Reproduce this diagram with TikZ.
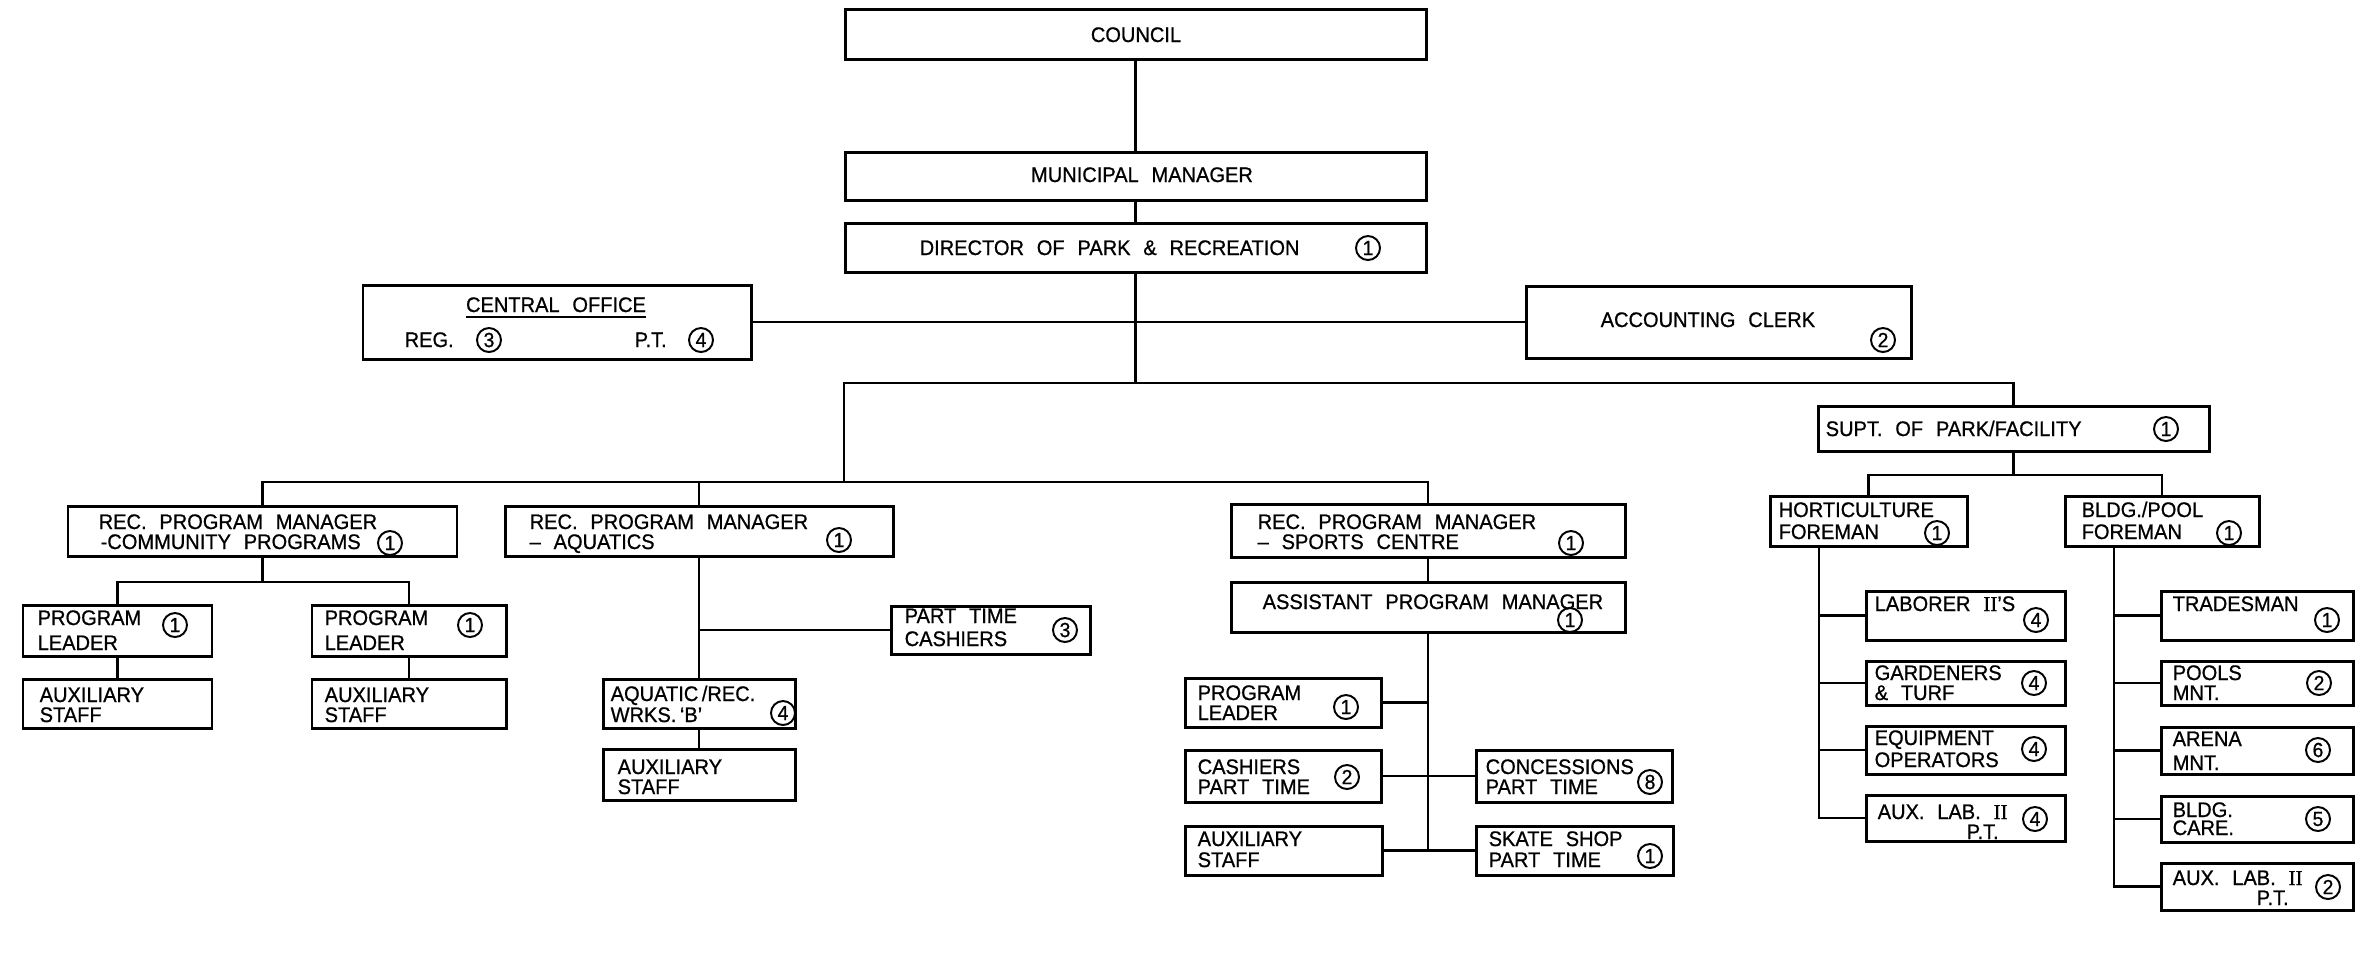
\documentclass[tikz,border=0pt]{standalone}
\usepackage{fontspec}
\setmainfont{Liberation Sans}[FakeStretch=0.95,WordSpace=2.3,FakeBold=0.8]
\newfontfamily\iifont{Liberation Serif}[FakeBold=0.8]
\usetikzlibrary{calc}
\newcounter{tn}
\newcommand\bx[5]{\node[bxs,minimum width={(#4-#2)*0.01cm},minimum height={(#5-#3)*0.01cm}] (#1) at ({(#2+#4)/2},{(#3+#5)/2}) {};}
\newcommand\tx[3]{\stepcounter{tn}\node[lbl] (t\arabic{tn}) at (#1,#2) {#3};}
\newcommand\tc[3]{\stepcounter{tn}\node[lblc] (t\arabic{tn}) at (#1,#2) {#3};}
\newcommand\cn[3]{\stepcounter{tn}\node[cnum] (n\arabic{tn}) at (#1,#2) {#3};}
\tikzset{
  bxs/.style={draw,line width=0.85pt,inner sep=0pt,outer sep=0pt},
  lbl/.style={anchor=base west,inner sep=0pt,font=\fontsize{6}{7}\selectfont},
  lblc/.style={lbl,anchor=base},
  cnum/.style={circle,draw,line width=0.55pt,inner sep=0pt,minimum size=0.24cm,font=\fontsize{5.8}{6}\selectfont},
  ln/.style={line width=0.6pt}
}
\begin{document}
\begin{tikzpicture}[x=0.01cm,y=-0.01cm]
\useasboundingbox (0,0) rectangle (2363,953);
% boxes
\bx{council}{845}{9}{1426}{59}
\bx{mm}{845}{152}{1426}{200}
\bx{dir}{845}{223}{1426}{272}
\bx{co}{363}{285}{751}{359}
\bx{ac}{1526}{286}{1911}{358}
\bx{comm}{68}{506}{457}{556}
\bx{aqua}{505}{506}{893}{556}
\bx{sport}{1231}{504}{1625}{557}
\bx{supt}{1818}{406}{2209}{451}
\bx{pl1}{23}{605}{212}{656}
\bx{pl2}{312}{605}{506}{656}
\bx{aux1}{23}{679}{212}{728}
\bx{aux2}{312}{679}{506}{728}
\bx{awr}{603}{679}{795}{728}
\bx{aux3}{603}{749}{795}{800}
\bx{ptc}{891}{606}{1090}{654}
\bx{asst}{1231}{582}{1625}{632}
\bx{pl3}{1185}{678}{1381}{727}
\bx{cash}{1185}{750}{1381}{802}
\bx{aux4}{1185}{826}{1382}{875}
\bx{conc}{1476}{750}{1672}{802}
\bx{skate}{1476}{826}{1673}{875}
\bx{hort}{1770}{496}{1967}{546}
\bx{bldg}{2065}{496}{2259}{546}
\bx{lab}{1866}{591}{2065}{640}
\bx{gard}{1866}{661}{2065}{705}
\bx{equip}{1866}{726}{2065}{774}
\bx{axlA}{1866}{795}{2065}{841}
\bx{trade}{2161}{591}{2353}{640}
\bx{pools}{2161}{661}{2353}{705}
\bx{arena}{2161}{727}{2353}{774}
\bx{care}{2161}{796}{2353}{842}
\bx{axlB}{2161}{863}{2353}{910}
% helper levels
\coordinate (lv1) at (0,383);
\coordinate (lv2) at (844,482);
\coordinate (lv3) at (0,582);
\coordinate (lv4) at (0,475);
% connectors
\draw[ln] (council) -- (mm);
\draw[ln] (mm) -- (dir);
\draw[ln] (dir.south) -- (dir.south |- lv1) -| (supt.north);
\draw[ln] (dir.south |- lv1) -| (lv2);
\draw[ln] (co.east) -- (ac.west);
\draw[ln] (comm.north) |- (lv2) -| (sport.north);
\draw[ln] (aqua.north) -- (aqua.north |- lv2);
\draw[ln] (comm.south) -- (comm.south |- lv3);
\draw[ln] (pl1.north) |- (comm.south |- lv3) -| (pl2.north);
\draw[ln] (pl1) -- (aux1);
\draw[ln] (pl2) -- (aux2);
\draw[ln] (aqua.south) -- (awr.north);
\draw[ln] (awr) -- (aux3);
\draw[ln] (aqua.south |- ptc.west) -- (ptc.west);
\draw[ln] (sport) -- (asst);
\draw[ln] (asst.south) -- (asst.south |- aux4.east);
\draw[ln] (pl3.east) -- (asst.south |- pl3.east);
\draw[ln] (cash.east) -- (conc.west);
\draw[ln] (aux4.east) -- (skate.west);
\draw[ln] (supt.south) -- (supt.south |- lv4);
\draw[ln] (hort.north) |- (supt.south |- lv4) -| (bldg.north);
\coordinate (ht) at ($(hort.south west)+(49,0)$);
\coordinate (bt) at ($(bldg.south west)+(49,0)$);
\draw[ln] (ht) |- (axlA.west);
\foreach \n in {lab,gard,equip} \draw[ln] (ht |- \n.west) -- (\n.west);
\draw[ln] (bt) |- (axlB.west);
\foreach \n in {trade,pools,arena,care} \draw[ln] (bt |- \n.west) -- (\n.west);
% texts
\tc{1136}{42}{COUNCIL}
\tc{1142}{182}{MUNICIPAL MANAGER}
\tx{919}{255}{DIRECTOR OF PARK \& RECREATION}\cn{1368}{248}{1}
\tc{556}{312}{\underline{CENTRAL OFFICE}}
\tx{404}{347}{REG.}\cn{489}{340}{3}
\tx{634}{347}{P.T.}\cn{701}{340}{4}
\tx{1600}{327}{ACCOUNTING CLERK}\cn{1883}{340}{2}
\tx{98}{529}{REC. PROGRAM MANAGER}
\tx{100}{549}{-COMMUNITY PROGRAMS}\cn{390}{543}{1}
\tx{529}{529}{REC. PROGRAM MANAGER}
\tx{529}{549}{-- AQUATICS}\cn{839}{540}{1}
\tx{1257}{529}{REC. PROGRAM MANAGER}
\tx{1257}{549}{-- SPORTS CENTRE}\cn{1571}{543}{1}
\tx{1262}{609}{ASSISTANT PROGRAM MANAGER}\cn{1570}{620}{1}
\tx{37}{625}{PROGRAM}\tx{37}{650}{LEADER}\cn{175}{625}{1}
\tx{324}{625}{PROGRAM}\tx{324}{650}{LEADER}\cn{470}{625}{1}
\tx{39}{702}{AUXILIARY}\tx{39}{722}{STAFF}
\tx{324}{702}{AUXILIARY}\tx{324}{722}{STAFF}
\tx{610}{701}{AQUATIC\,/REC.}\tx{610}{722}{WRKS.\,`B'}\cn{783}{713}{4}
\tx{617}{774}{AUXILIARY}\tx{617}{794}{STAFF}
\tx{904}{623}{PART TIME}\tx{904}{646}{CASHIERS}\cn{1065}{630}{3}
\tx{1197}{700}{PROGRAM}\tx{1197}{720}{LEADER}\cn{1346}{707}{1}
\tx{1197}{774}{CASHIERS}\tx{1197}{794}{PART TIME}\cn{1347}{777}{2}
\tx{1197}{846}{AUXILIARY}\tx{1197}{867}{STAFF}
\tx{1485}{774}{CONCESSIONS}\tx{1485}{794}{PART TIME}\cn{1650}{782}{8}
\tx{1488}{846}{SKATE SHOP}\tx{1488}{867}{PART TIME}\cn{1650}{856}{1}
\tx{1825}{436}{SUPT. OF PARK/FACILITY}\cn{2166}{429}{1}
\tx{1778}{517}{HORTICULTURE}\tx{1778}{539}{FOREMAN}\cn{1937}{533}{1}
\tx{2081}{517}{BLDG./POOL}\tx{2081}{539}{FOREMAN}\cn{2229}{533}{1}
\tx{1874}{611}{LABORER {\iifont II}'S}\cn{2036}{620}{4}
\tx{1874}{680}{GARDENERS}\tx{1874}{700}{\& TURF}\cn{2034}{683}{4}
\tx{1874}{745}{EQUIPMENT}\tx{1874}{767}{OPERATORS}\cn{2034}{749}{4}
\tx{1877}{819}{AUX. LAB. {\iifont II}}\tx{1966}{839}{P.T.}\cn{2035}{819}{4}
\tx{2172}{611}{TRADESMAN}\cn{2327}{620}{1}
\tx{2172}{680}{POOLS}\tx{2172}{700}{MNT.}\cn{2319}{683}{2}
\tx{2172}{746}{ARENA}\tx{2172}{770}{MNT.}\cn{2318}{750}{6}
\tx{2172}{817}{BLDG.}\tx{2172}{835}{CARE.}\cn{2318}{819}{5}
\tx{2172}{885}{AUX. LAB. {\iifont II}}\tx{2256}{905}{P.T.}\cn{2328}{887}{2}
\end{tikzpicture}
\end{document}
